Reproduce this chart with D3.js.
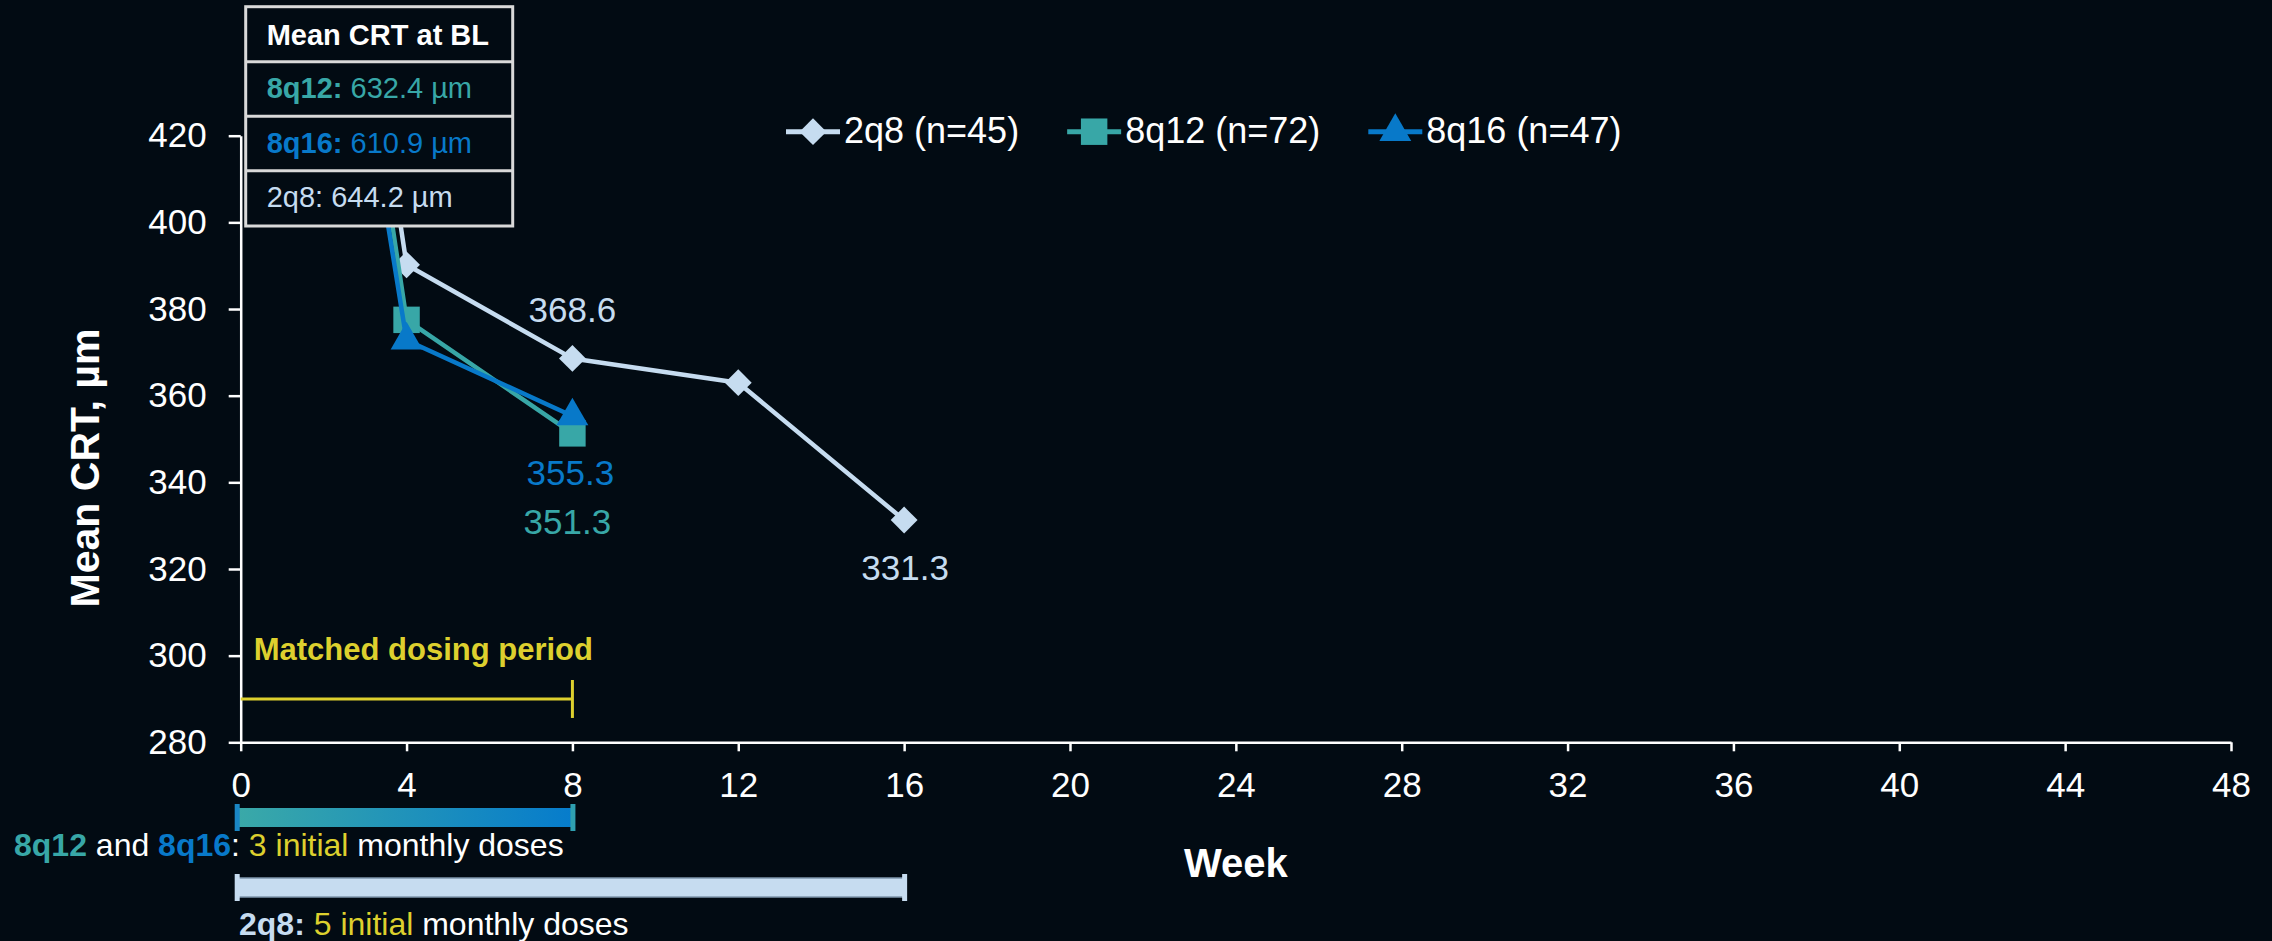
<!DOCTYPE html>
<html>
<head>
<meta charset="utf-8">
<script src="https://cdn.jsdelivr.net/npm/d3@7"></script>
<style>
  html, body { margin: 0; padding: 0; background: #020b13; }
  svg { display: block; }
  text { font-family: "Liberation Sans", Arial, sans-serif; }
</style>
</head>
<body>
<svg id="chart" width="2272" height="941"></svg>
<script>
// ---------------- data ----------------
const xTicks = [0, 4, 8, 12, 16, 20, 24, 28, 32, 36, 40, 44, 48];
const yTicks = [280, 300, 320, 340, 360, 380, 400, 420];

const weeks2q8 = [0, 4, 8, 12, 16];
const values2q8 = [644.2, 390.2, 368.6, 363.0, 331.3];
const weeks8q12 = [0, 4, 8];
const values8q12 = [632.4, 377.5, 351.3];
const weeks8q16 = [0, 4, 8];
const values8q16 = [610.9, 372.8, 355.3];

const seriesNames = ["2q8", "8q12", "8q16"];
const seriesN = [45, 72, 47];
const baselineCRT = [644.2, 632.4, 610.9];

const matchedPeriod = [0, 8];      // weeks
const matchedLevel = 290;          // µm level of bracket
const loadingShort = [0, 8];       // 8q12 / 8q16 initial monthly doses
const loadingLong = [0, 16];       // 2q8 initial monthly doses

// ---------------- style ----------------
const BG = "#020b13";
const C2q8 = "#c6dcf0", C8q12 = "#38a7a7", C8q16 = "#0879c9";
const YELLOW = "#ddd02e", WHITE = "#ffffff";

const svg = d3.select("#chart");
svg.append("rect").attr("width", 2272).attr("height", 941).attr("fill", BG);

const x = d3.scaleLinear().domain([0, 48]).range([240.7, 2231]);
const y = d3.scaleLinear().domain([280, 420]).range([742.3, 135.7]);

const defs = svg.append("defs");
defs.append("clipPath").attr("id", "plotclip")
  .append("rect").attr("x", 0).attr("y", 8).attr("width", 2272).attr("height", 941);
const grad = defs.append("linearGradient").attr("id", "barGrad")
  .attr("x1", "0%").attr("x2", "100%").attr("y1", "0%").attr("y2", "0%");
grad.append("stop").attr("offset", "0%").attr("stop-color", "#3aa9a8");
grad.append("stop").attr("offset", "100%").attr("stop-color", "#067ccc");

// ---------------- axes ----------------
const yAxis = svg.append("g").attr("transform", `translate(${x(0)},0)`)
  .call(d3.axisLeft(y).tickValues(yTicks).tickSize(12).tickSizeOuter(0).tickPadding(22));
const xAxis = svg.append("g").attr("transform", `translate(0,${y(280)})`)
  .call(d3.axisBottom(x).tickValues(xTicks).tickSize(9).tickSizeOuter(0).tickPadding(21));
[yAxis, xAxis].forEach(g => {
  g.selectAll("path, line").attr("stroke", WHITE).attr("stroke-width", 2.5);
  g.selectAll("text").attr("fill", WHITE).attr("font-size", 35)
    .attr("font-family", "'Liberation Sans', Arial, sans-serif");
});

svg.append("text")
  .attr("transform", `translate(99,468) rotate(-90)`)
  .attr("text-anchor", "middle").attr("fill", WHITE)
  .attr("font-size", 41).attr("font-weight", "bold")
  .text("Mean CRT, µm");

svg.append("text")
  .attr("x", (x(0) + x(48)) / 2).attr("y", 877)
  .attr("text-anchor", "middle").attr("fill", WHITE)
  .attr("font-size", 40).attr("font-weight", "bold")
  .text("Week");

// ---------------- matched dosing bracket ----------------
svg.append("line")
  .attr("x1", x(matchedPeriod[0])).attr("x2", x(matchedPeriod[1]))
  .attr("y1", y(matchedLevel)).attr("y2", y(matchedLevel))
  .attr("stroke", YELLOW).attr("stroke-width", 3);
svg.append("line")
  .attr("x1", x(matchedPeriod[1])).attr("x2", x(matchedPeriod[1]))
  .attr("y1", y(matchedLevel) - 19).attr("y2", y(matchedLevel) + 19)
  .attr("stroke", YELLOW).attr("stroke-width", 3);
svg.append("text")
  .attr("x", x(0) + 13).attr("y", 660)
  .attr("fill", YELLOW).attr("font-size", 31).attr("font-weight", "bold")
  .text("Matched dosing period");

// ---------------- series lines ----------------
const series = [
  { name: "2q8", color: C2q8, weeks: weeks2q8, values: values2q8, shape: "diamond" },
  { name: "8q12", color: C8q12, weeks: weeks8q12, values: values8q12, shape: "square" },
  { name: "8q16", color: C8q16, weeks: weeks8q16, values: values8q16, shape: "triangle" }
];

const line = d3.line().x(d => x(d[0])).y(d => y(d[1]));
const symbolFor = {
  diamond: d3.symbol().type(d3.symbolSquare).size(360),
  square: d3.symbol().type(d3.symbolSquare).size(700),
  triangle: d3.symbol().type(d3.symbolTriangle).size(440)
};

const plot = svg.append("g").attr("clip-path", "url(#plotclip)");
series.forEach(s => {
  const pts = s.weeks.map((w, i) => [w, s.values[i]]);
  plot.append("path").datum(pts)
    .attr("d", line).attr("fill", "none")
    .attr("stroke", s.color).attr("stroke-width", 4.5).attr("stroke-linejoin", "round");
  plot.selectAll(null).data(pts.slice(1)).enter().append("path")
    .attr("d", symbolFor[s.shape])
    .attr("transform", d => `translate(${x(d[0])},${y(d[1])})` + (s.shape === "diamond" ? " rotate(45)" : ""))
    .attr("fill", s.color);
});

// ---------------- value labels ----------------
const valueLabels = [
  { value: values2q8[2], week: weeks2q8[2], color: C2q8, dx: 0, dy: -36 },
  { value: values2q8[4], week: weeks2q8[4], color: C2q8, dx: 1, dy: 60 },
  { value: values8q16[2], week: weeks8q16[2], color: C8q16, dx: -2, dy: 69 },
  { value: values8q12[2], week: weeks8q12[2], color: C8q12, dx: -5, dy: 101 }
];
svg.selectAll(null).data(valueLabels).enter().append("text")
  .attr("x", d => x(d.week) + d.dx).attr("y", d => y(d.value) + d.dy)
  .attr("text-anchor", "middle").attr("fill", d => d.color).attr("font-size", 35)
  .text(d => d.value.toFixed(1));

// ---------------- baseline box ----------------
const box = svg.append("g");
const bx0 = 245.7, bx1 = 512.7;
const rows = [6.7, 61.7, 116.2, 170.7, 226];
box.append("rect").attr("x", bx0).attr("y", rows[0]).attr("width", bx1 - bx0).attr("height", rows[4] - rows[0])
  .attr("fill", BG).attr("stroke", "#d9d9d9").attr("stroke-width", 3);
rows.slice(1, 4).forEach(r => box.append("line").attr("x1", bx0).attr("x2", bx1).attr("y1", r).attr("y2", r)
  .attr("stroke", "#d9d9d9").attr("stroke-width", 3));
box.append("text").attr("x", bx0 + 21).attr("y", 45).attr("fill", WHITE)
  .attr("font-size", 29).attr("font-weight", "bold").text("Mean CRT at BL");
const boxRows = [
  { name: seriesNames[1], v: baselineCRT[1], color: C8q12, bold: true, yb: 98.3 },
  { name: seriesNames[2], v: baselineCRT[2], color: C8q16, bold: true, yb: 153.3 },
  { name: seriesNames[0], v: baselineCRT[0], color: C2q8, bold: false, yb: 206.7 }
];
boxRows.forEach(r => {
  const t = box.append("text").attr("x", bx0 + 21).attr("y", r.yb).attr("fill", r.color).attr("font-size", 29);
  t.append("tspan").attr("font-weight", r.bold ? "bold" : "normal").text(r.name + ":");
  t.append("tspan").text(" " + r.v.toFixed(1) + " µm");
});

// ---------------- legend ----------------
let lx = 786;
const legY = 131.7;
series.forEach((s, i) => {
  const g = svg.append("g");
  g.append("line").attr("x1", lx).attr("x2", lx + 54).attr("y1", legY).attr("y2", legY)
    .attr("stroke", s.color).attr("stroke-width", 5);
  g.append("path").attr("d", symbolFor[s.shape])
    .attr("transform", `translate(${lx + 27},${legY})` + (s.shape === "diamond" ? " rotate(45)" : ""))
    .attr("fill", s.color);
  const t = g.append("text").attr("x", lx + 58).attr("y", legY + 11).attr("fill", WHITE).attr("font-size", 36)
    .text(`${s.name} (n=${seriesN[i]})`);
  lx = lx + 58 + t.node().getComputedTextLength() + 48;
});

// ---------------- dosing bars ----------------
function capBar(x0, x1, yc, fill, capL, capR, h, outline) {
  svg.append("rect").attr("x", x0).attr("y", yc - h / 2).attr("width", x1 - x0).attr("height", h)
    .attr("fill", fill).attr("stroke", outline || "none").attr("stroke-width", outline ? 1.5 : 0);
  svg.append("rect").attr("x", x0 - 3).attr("y", yc - h / 2 - 4).attr("width", 5).attr("height", h + 8).attr("fill", capL);
  svg.append("rect").attr("x", x1 - 2).attr("y", yc - h / 2 - 4).attr("width", 5).attr("height", h + 8).attr("fill", capR);
}
capBar(x(loadingShort[0]) - 3, x(loadingShort[1]), 817.5, "url(#barGrad)", "#1a86c4", "#2fa0b0", 19);
capBar(x(loadingLong[0]) - 3, x(loadingLong[1]), 887.5, C2q8, C2q8, C2q8, 19, "#7f97ad");

const note1 = svg.append("text").attr("x", 14).attr("y", 856).attr("font-size", 32);
[["8q12", C8q12, "bold"], [" and ", WHITE, "normal"], ["8q16", C8q16, "bold"], [": ", WHITE, "normal"],
 ["3 initial", YELLOW, "normal"], [" monthly doses", WHITE, "normal"]]
  .forEach(p => note1.append("tspan").attr("fill", p[1]).attr("font-weight", p[2]).text(p[0]));

const note2 = svg.append("text").attr("x", 239).attr("y", 935).attr("font-size", 32);
[["2q8:", C2q8, "bold"], [" ", WHITE, "normal"], ["5 initial", YELLOW, "normal"], [" monthly doses", WHITE, "normal"]]
  .forEach(p => note2.append("tspan").attr("fill", p[1]).attr("font-weight", p[2]).text(p[0]));
</script>
</body>
</html>
